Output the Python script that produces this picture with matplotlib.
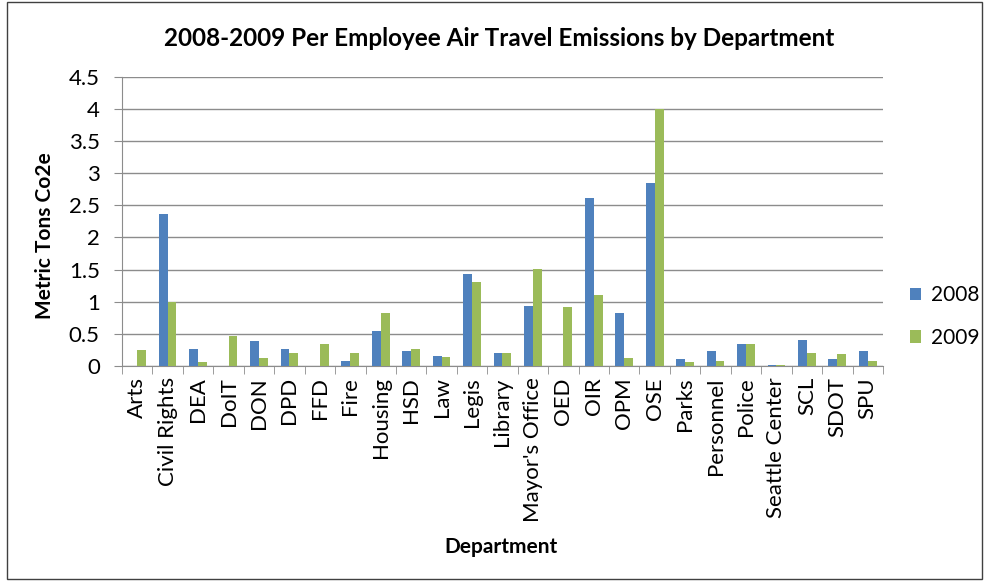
import matplotlib
matplotlib.use("Agg")
import matplotlib.pyplot as plt
import numpy as np
from matplotlib.patches import Rectangle

# --- data -------------------------------------------------------------------
departments = ["Arts", "Civil Rights", "DEA", "DoIT", "DON", "DPD", "FFD", "Fire",
               "Housing", "HSD", "Law", "Legis", "Library", "Mayor's Office", "OED",
               "OIR", "OPM", "OSE", "Parks", "Personnel", "Police", "Seattle Center",
               "SCL", "SDOT", "SPU"]
val_2008 = [0.0, 2.36, 0.26, 0.0, 0.39, 0.26, 0.0, 0.08, 0.54, 0.23, 0.16, 1.43,
            0.20, 0.94, 0.0, 2.62, 0.83, 2.84, 0.11, 0.23, 0.35, 0.02, 0.40, 0.11, 0.23]
val_2009 = [0.25, 1.0, 0.06, 0.46, 0.13, 0.21, 0.34, 0.20, 0.83, 0.26, 0.145, 1.30,
            0.20, 1.51, 0.92, 1.11, 0.13, 4.0, 0.06, 0.08, 0.34, 0.02, 0.20, 0.18, 0.08]
years = ["2008", "2009"]
colors = ["#4F81BD", "#9BBB59"]

plt.rcParams["font.family"] = ["Lato", "DejaVu Sans"]

fig = plt.figure(figsize=(9.87, 5.81), dpi=100)
ax = fig.add_axes([0.1236, 0.370, 0.771, 0.498])

x = np.arange(len(departments))
w = 0.29
ax.bar(x - w / 2, val_2008, w, color=colors[0], label=years[0], zorder=3)
ax.bar(x + w / 2, val_2009, w, color=colors[1], label=years[1], zorder=3)

ax.set_xlim(-0.5, len(departments) - 0.5)
ax.set_ylim(0, 4.5)
ax.set_yticks(np.arange(0, 4.51, 0.5))
ax.set_yticklabels(["0", "0.5", "1", "1.5", "2", "2.5", "3", "3.5", "4", "4.5"], fontsize=16)
ax.yaxis.grid(True, color="#8c8c8c", lw=1, zorder=0)
ax.tick_params(axis="y", length=6, color="#8c8c8c", pad=10)

ax.set_xticks(x)
ax.set_xticklabels(departments, rotation=90, fontsize=16)
ax.tick_params(axis="x", length=0, pad=8)
ax.set_xticks(np.arange(-0.5, len(departments)), minor=True)
ax.tick_params(axis="x", which="minor", length=6, color="#8c8c8c")

for s in ["top", "right"]:
    ax.spines[s].set_visible(False)
for s in ["left", "bottom"]:
    ax.spines[s].set_color("#8c8c8c")

fig.text(45 / 987, 0.595, "Metric Tons Co2e", rotation=90, ha="center", va="center",
         fontsize=15, fontweight="bold")
fig.text(0.508, 1 - 547 / 581, "Department", ha="center", va="center",
         fontsize=15, fontweight="bold")
fig.text(0.506, 1 - 38 / 581, "2008-2009 Per Employee Air Travel Emissions by Department",
         ha="center", va="center", fontsize=17.5, fontweight="bold")

fig.legend(loc="center left", bbox_to_anchor=(910 / 987, 0.455), frameon=False,
           fontsize=15, handlelength=0.55, handleheight=0.55, handletextpad=0.45,
           labelspacing=1.1, borderpad=0, borderaxespad=0)

fig.patches.append(Rectangle((0.007, 0.004), 0.988, 0.992, transform=fig.transFigure,
                             fill=False, edgecolor="#404040", lw=1))

fig.savefig("out.png", dpi=100)
